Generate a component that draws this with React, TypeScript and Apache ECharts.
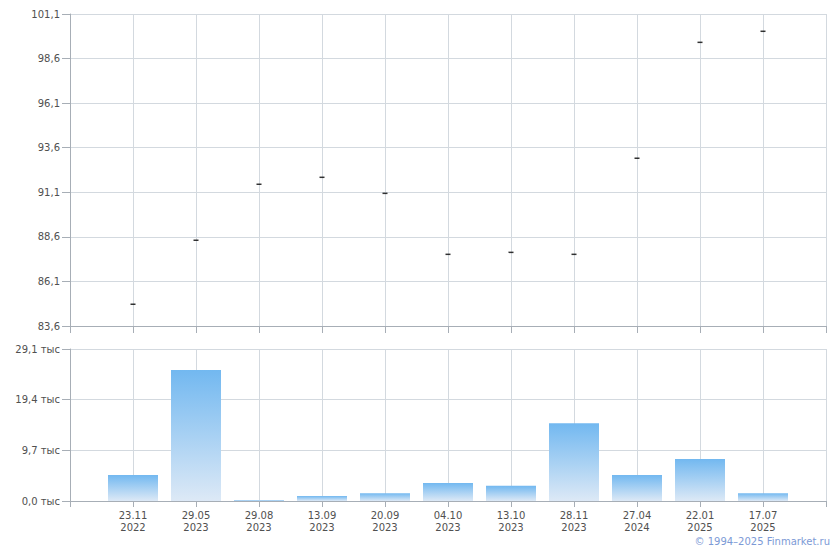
import React, { useEffect, useRef } from "react";
import * as echarts from "echarts";

const dates = ["23.11\n2022", "29.05\n2023", "29.08\n2023", "13.09\n2023", "20.09\n2023", "04.10\n2023", "13.10\n2023", "28.11\n2023", "27.04\n2024", "22.01\n2025", "17.07\n2025"];
const prices = [84.82, 88.41, 91.55, 91.94, 91.04, 87.62, 87.73, 87.62, 93.01, 99.51, 100.13];
const volumes = [5000, 25100, 200, 950, 1500, 3450, 2900, 14900, 5000, 8050, 1500];
const priceTicks = [83.6, 86.1, 88.6, 91.1, 93.6, 96.1, 98.6, 101.1];
const volumeTicks = [0, 9700, 19400, 29100];

const FONT = "DejaVu Sans";
const GRID = "#d3d9df";
const AXIS = "#a7aeb6";
const LABEL = "#505050";

export default function App() {
  const ref = useRef<HTMLDivElement>(null);
  useEffect(() => {
    if (!ref.current) return;
    const chart = echarts.init(ref.current, null, { renderer: "svg" });
    const cats = ["", ...dates, ""];
    const priceData = ["-", ...prices, "-"];
    const volData = ["-", ...volumes, "-"];
    const fmt = (v: number) => v.toFixed(1).replace(".", ",");
    chart.setOption({
      animation: false,
      backgroundColor: "#ffffff",
      textStyle: { fontFamily: FONT },
      grid: [
        { left: 70, right: 14, top: 14, height: 312, containLabel: false },
        { left: 70, right: 14, top: 349, height: 152, containLabel: false },
      ],
      xAxis: [
        {
          type: "category",
          gridIndex: 0,
          data: cats,
          boundaryGap: false,
          axisLine: { show: true, lineStyle: { color: AXIS, width: 1 } },
          axisTick: { show: true, length: 7, lineStyle: { color: AXIS } },
          axisLabel: { show: false, interval: 0 },
          splitLine: { show: true, interval: 0, lineStyle: { color: GRID, width: 1 } },
        },
        {
          type: "category",
          gridIndex: 1,
          data: cats,
          boundaryGap: false,
          axisLine: { show: true, lineStyle: { color: AXIS, width: 1 } },
          axisTick: { show: true, length: 6, interval: 0, lineStyle: { color: AXIS } },
          axisLabel: {
            show: true,
            interval: 0,
            color: LABEL,
            fontFamily: FONT,
            fontSize: 10,
            lineHeight: 12,
            margin: 8,
          },
          splitLine: { show: true, interval: 0, lineStyle: { color: GRID, width: 1 } },
        },
      ],
      yAxis: [
        {
          type: "value",
          gridIndex: 0,
          min: priceTicks[0],
          max: priceTicks[priceTicks.length - 1],
          axisLine: { show: true, lineStyle: { color: AXIS, width: 1 } },
          axisTick: { show: true, length: 8, lineStyle: { color: AXIS }, customValues: priceTicks },
          axisLabel: {
            color: LABEL,
            fontFamily: FONT,
            fontSize: 10,
            margin: 10,
            customValues: priceTicks,
            formatter: (v: number) => fmt(v),
          },
          splitLine: { show: true, lineStyle: { color: GRID, width: 1 } },
        },
        {
          type: "value",
          gridIndex: 1,
          min: 0,
          max: volumeTicks[volumeTicks.length - 1],
          interval: volumeTicks[1],
          axisLine: { show: true, lineStyle: { color: AXIS, width: 1 } },
          axisTick: { show: true, length: 8, lineStyle: { color: AXIS } },
          axisLabel: {
            color: LABEL,
            fontFamily: FONT,
            fontSize: 10,
            margin: 10,
            formatter: (v: number) => fmt(v / 1000) + " тыс",
          },
          splitLine: { show: true, lineStyle: { color: GRID, width: 1 } },
        },
      ],
      series: [
        {
          type: "scatter",
          xAxisIndex: 0,
          yAxisIndex: 0,
          data: priceData,
          symbol: "rect",
          symbolSize: [5, 1.5],
          itemStyle: { color: "#000000" },
        },
        {
          type: "bar",
          xAxisIndex: 1,
          yAxisIndex: 1,
          data: volData,
          barWidth: 50,
          itemStyle: {
            color: new echarts.graphic.LinearGradient(0, 0, 0, 1, [
              { offset: 0, color: "#72b8f0" },
              { offset: 1, color: "#dde9f6" },
            ]),
          },
        },
      ],
      graphic: [
        {
          type: "text",
          right: 10,
          top: 536,
          style: {
            text: "© 1994–2025 Finmarket.ru",
            fill: "#7c9ad6",
            fontFamily: FONT,
            fontSize: 10,
          },
        },
      ],
    });
    return () => chart.dispose();
  }, []);
  return (
    <div
      ref={ref}
      style={{ position: "fixed", left: 0, top: 0, width: 840, height: 550 }}
    />
  );
}
